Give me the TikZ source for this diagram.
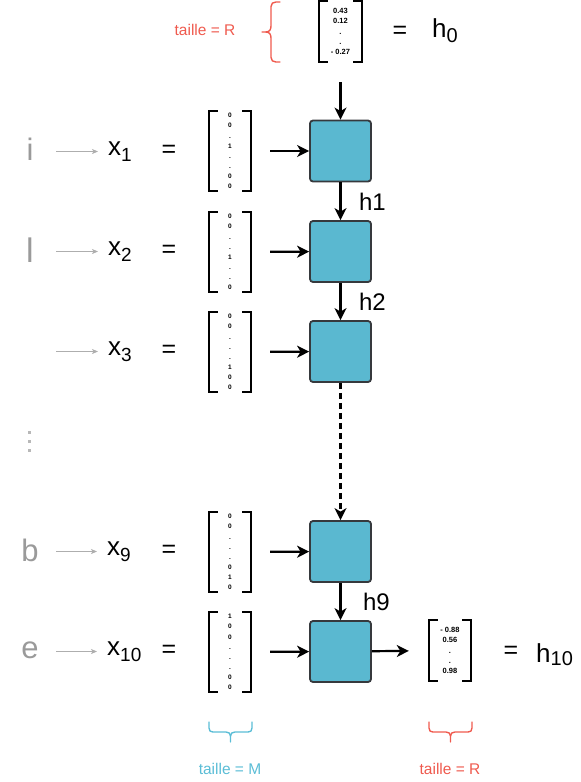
\documentclass[tikz,border=0pt]{standalone}
\usepackage{fontspec}
\setmainfont{Liberation Sans}
\usetikzlibrary{arrows.meta}
\definecolor{boxblue}{HTML}{5AB8D0}
\definecolor{boxline}{HTML}{36393D}
\definecolor{tred}{HTML}{EF5A4E}
\definecolor{tcyan}{HTML}{5BBDD6}
\definecolor{lgray}{HTML}{9A9A9A}
\newcommand{\fs}[1]{\fontsize{#1}{#1}\selectfont}
\newcommand{\subx}[1]{\raisebox{-6pt}{\fs{19}#1}}
\newcommand{\drawbrk}[1]{%
  \draw[brk] ([xshift=8pt]#1.north west) -- (#1.north west) -- (#1.south west) -- ([xshift=8pt]#1.south west);
  \draw[brk] ([xshift=-8pt]#1.north east) -- (#1.north east) -- (#1.south east) -- ([xshift=-8pt]#1.south east);}
\tikzset{
 cell/.style={draw=boxline, fill=boxblue, line width=1.8pt, rounded corners=3pt, minimum width=61pt, minimum height=61pt, inner sep=0pt},
 vec/.style={minimum width=42pt, minimum height=80pt, inner sep=0pt, align=center, font={\bfseries\fontsize{6.5}{10.1}\selectfont}},
 hvec/.style={minimum width=42pt, minimum height=61pt, inner sep=0pt, align=center, font={\bfseries\fontsize{7.5}{10.2}\selectfont}},
 brk/.style={line width=2pt, black, line cap=rect},
 arr/.style={-{Stealth[length=12pt,width=12pt,inset=3.5pt]}, line width=2.2pt},
 garr/.style={-{Stealth[length=6pt,width=5pt,inset=1.5pt]}, line width=0.8pt, draw=lgray!80},
 glet/.style={text=lgray, font=\fs{31}, inner sep=0pt},
 xlab/.style={font=\fs{26}, inner sep=0pt, anchor=base west},
 eq/.style={font=\fs{25}, inner sep=0pt},
 hlab/.style={font=\fs{24}, inner sep=0pt, anchor=base west},
 tl/.style={font=\fs{15.5}, inner sep=0pt},
 brace/.style={line width=1.4pt, line cap=round, line join=round},
}
\begin{document}
\begin{tikzpicture}[x=1pt,y=-1pt]
\useasboundingbox (0,0) rectangle (581,782);

% top h0
\node[hvec] (h0m) at (340.5,31.5) {0.43\\0.12\\.\\.\\- 0.27};
\drawbrk{h0m}
\node[eq] (eq0) at (400,32) {=};
\node[font=\fs{26}, inner sep=0pt, anchor=base west] (h0) at (432,37) {h\raisebox{-5pt}{\fs{20}0}};
\node[tl, text=tred] (tR1) at (205,30) {taille = R};
\draw[brace, tred] (280,2) -- (276,2) .. controls (273,2) and (271,3.5) .. (271,6.5) -- (271,26) .. controls (271,29.5) and (269.5,32) .. (266,32) -- (262,32);
\draw[brace, tred] (280,62) -- (276,62) .. controls (273,62) and (271,60.5) .. (271,57.5) -- (271,38) .. controls (271,34.5) and (269.5,32) .. (266,32);

% cells
\node[cell] (b1) at (340.5,151) {};
\node[cell] (b2) at (340.5,251.5) {};
\node[cell] (b3) at (340.5,351.5) {};
\node[cell] (b9) at (340.5,551.5) {};
\node[cell] (b10) at (340.5,651.5) {};

% vectors
\node[vec] (m1) at (230,151) {0\\0\\.\\1\\.\\.\\0\\0};
\node[vec] (m2) at (230,252) {0\\0\\.\\.\\1\\.\\.\\0};
\node[vec] (m3) at (230,352) {0\\0\\.\\.\\.\\1\\0\\0};
\node[vec] (m9) at (230,552) {0\\0\\.\\.\\.\\0\\1\\0};
\node[vec] (m10) at (230,652) {1\\0\\0\\.\\.\\.\\0\\0};
\drawbrk{m1}\drawbrk{m2}\drawbrk{m3}\drawbrk{m9}\drawbrk{m10}

% x labels and equals
\node[xlab] (x1) at (108,155) {x\subx{1}};
\node[xlab] (x2) at (108,255.5) {x\subx{2}};
\node[xlab] (x3) at (108,355.5) {x\subx{3}};
\node[xlab] (x9) at (107,555.5) {x\subx{9}};
\node[xlab] (x10) at (107,655.5) {x\subx{10}};
\node[eq] (e1) at (169,151) {=};
\node[eq] (e2) at (169,251.5) {=};
\node[eq] (e3) at (169,351.5) {=};
\node[eq] (e9) at (169,551.5) {=};
\node[eq] (e10) at (169,651.5) {=};

% gray letters
\node[glet] (li) at (30,149.5) {i};
\node[glet, font=\fs{34}] (ll) at (30,250) {l};
\node[glet] (lb) at (30,550) {b};
\node[glet] (le) at (30,650) {e};
\fill[lgray!70] (27.5,430.5) rectangle (30.5,433.5);
\fill[lgray!70] (27.5,439.5) rectangle (30.5,442.5);
\fill[lgray!70] (27.5,448.5) rectangle (30.5,451.5);

\coordinate (s1) at (56,151.5);
\coordinate (s2) at (56,251.5);
\coordinate (s3) at (56,351.5);
\coordinate (s9) at (56,551.5);
\coordinate (s10) at (56,651.5);
\draw[garr, shorten >=10pt] (s1) -- (s1 -| x1.west);
\draw[garr, shorten >=10pt] (s2) -- (s2 -| x2.west);
\draw[garr, shorten >=10pt] (s3) -- (s3 -| x3.west);
\draw[garr, shorten >=10pt] (s9) -- (s9 -| x9.west);
\draw[garr, shorten >=10pt] (s10) -- (s10 -| x10.west);

% arrows
\draw[arr] ([yshift=-20pt]h0m.south) -- (b1.north);
\draw[arr] (b1) -- node[hlab, xshift=17.5pt, yshift=-9pt] {h1} (b2);
\draw[arr] (b2) -- node[hlab, xshift=17.5pt, yshift=-9pt] {h2} (b3);
\draw[arr, dash pattern=on 6pt off 4pt] (b3) -- (b9);
\draw[arr] (b9) -- node[hlab, xshift=21.5pt, yshift=-9pt] {h9} (b10);
\foreach \i in {1,2,3,9,10} {\draw[arr, shorten <=19pt] (m\i) -- (b\i);}

% output h10
\node[hvec] (h10m) at (450,650.5) {- 0.88\\0.56\\.\\.\\0.98};
\drawbrk{h10m}
\draw[arr, shorten >=20pt] (b10) -- (h10m);
\node[eq] (eq10) at (511,652) {=};
\node[font=\fs{26}, inner sep=0pt, anchor=base west] (h10) at (536,662) {h\raisebox{-3pt}{\fs{20}10}};

% bottom braces
\draw[brace, tcyan] (209,722) -- (209,728) .. controls (209,731) and (210.5,732) .. (213,732) -- (226,732) .. controls (229,732) and (230.5,733.5) .. (230.5,736) -- (230.5,742);
\draw[brace, tcyan] (252,722) -- (252,728) .. controls (252,731) and (250.5,732) .. (248,732) -- (235,732) .. controls (232,732) and (230.5,733.5) .. (230.5,736);
\draw[brace, tred] (429,722) -- (429,728) .. controls (429,731) and (430.5,732) .. (433,732) -- (446,732) .. controls (449,732) and (450.5,733.5) .. (450.5,736) -- (450.5,742);
\draw[brace, tred] (472,722) -- (472,728) .. controls (472,731) and (470.5,732) .. (468,732) -- (455,732) .. controls (452,732) and (450.5,733.5) .. (450.5,736);
\node[tl, text=tcyan] (tM) at (230,769) {taille = M};
\node[tl, text=tred] (tR2) at (450,769) {taille = R};
\end{tikzpicture}
\end{document}
